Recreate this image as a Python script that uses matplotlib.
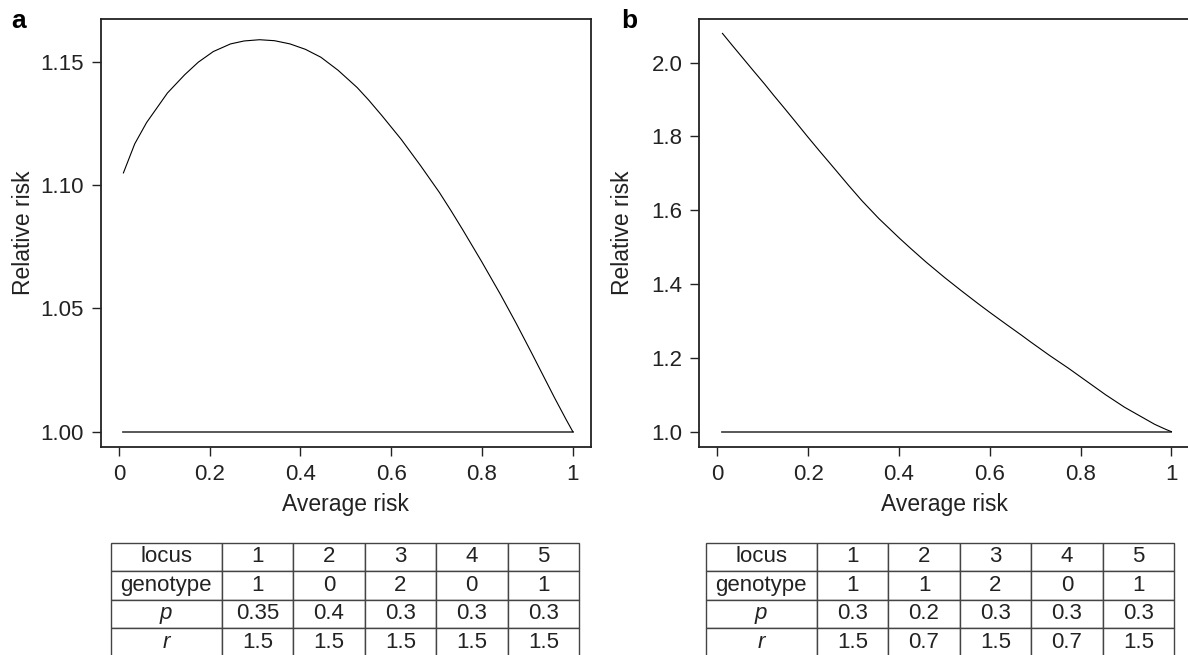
# relative risk vs average risk, two panels with genotype tables underneath
import matplotlib.pyplot as plt

plt.rcParams['font.family'] = ['Liberation Sans', 'DejaVu Sans']

# curve of panel a
risk_a = [0.01, 0.035, 0.061, 0.107, 0.145, 0.175, 0.208, 0.246, 0.276, 0.31,
          0.343, 0.377, 0.411, 0.445, 0.483, 0.525, 0.55, 0.58, 0.622, 0.664,
          0.706, 0.732, 0.757, 0.799, 0.841, 0.875, 0.909, 0.934, 0.959, 0.985, 1.0]
rr_a = [1.1049, 1.1167, 1.1253, 1.1373, 1.1447, 1.1498, 1.1541, 1.1572, 1.1584, 1.1589,
        1.1585, 1.1572, 1.1550, 1.1518, 1.1465, 1.1395, 1.1345, 1.1280, 1.1185, 1.1080,
        1.0970, 1.0895, 1.0820, 1.0690, 1.0555, 1.0440, 1.0320, 1.0230, 1.0140, 1.0050, 1.0]

# curve of panel b
risk_b = [0.011, 0.033, 0.054, 0.079, 0.103, 0.124, 0.145, 0.169, 0.198, 0.223,
          0.252, 0.289, 0.318, 0.355, 0.401, 0.426, 0.459, 0.5, 0.537, 0.574,
          0.599, 0.636, 0.669, 0.69, 0.731, 0.773, 0.814, 0.855, 0.897, 0.93,
          0.963, 0.988, 1.0]
rr_b = [2.079, 2.046, 2.015, 1.978, 1.943, 1.911, 1.880, 1.844, 1.800, 1.763,
        1.721, 1.667, 1.626, 1.578, 1.524, 1.496, 1.460, 1.418, 1.382, 1.347,
        1.324, 1.291, 1.262, 1.243, 1.207, 1.172, 1.136, 1.100, 1.066, 1.043,
        1.020, 1.006, 1.0]

# reference line RR = 1
flat_x = [0.01, 1.0]
flat_y = [1.0, 1.0]

x_ticks = [0, 0.2, 0.4, 0.6, 0.8, 1]
x_ticklabels = ['0', '0.2', '0.4', '0.6', '0.8', '1']
y_ticks_a = [1.00, 1.05, 1.10, 1.15]
y_ticklabels_a = ['1.00', '1.05', '1.10', '1.15']
y_ticks_b = [1.0, 1.2, 1.4, 1.6, 1.8, 2.0]
y_ticklabels_b = ['1.0', '1.2', '1.4', '1.6', '1.8', '2.0']

# tables
loci = ['1', '2', '3', '4', '5']
genotype_a = ['1', '0', '2', '0', '1']
p_a = ['0.35', '0.4', '0.3', '0.3', '0.3']
r_a = ['1.5', '1.5', '1.5', '1.5', '1.5']
genotype_b = ['1', '1', '2', '0', '1']
p_b = ['0.3', '0.2', '0.3', '0.3', '0.3']
r_b = ['1.5', '0.7', '1.5', '0.7', '1.5']

W, H = 1188, 655
fig = plt.figure(figsize=(W / 100, H / 100), dpi=100)

def px_rect(left, top, right, bottom):
    return [left / W, (H - bottom) / H, (right - left) / W, (bottom - top) / H]

def draw_panel(rect, risk, rr, yticks, yticklabels, ylim):
    ax = fig.add_axes(rect)
    ax.plot(flat_x, flat_y, color='#4a4a4a', lw=1.3)
    ax.plot(risk, rr, color='black', lw=0.8)
    ax.set_xlim(-0.04, 1.04)
    ax.set_ylim(*ylim)
    ax.set_xticks(x_ticks)
    ax.set_xticklabels(x_ticklabels)
    ax.set_yticks(yticks)
    ax.set_yticklabels(yticklabels)
    ax.tick_params(length=6.5, width=1, color='#222222', labelsize=16,
                   labelcolor='#222222')
    ax.tick_params(axis='x', pad=6)
    ax.tick_params(axis='y', pad=5.5)
    for s in ax.spines.values():
        s.set_color('#222222')
        s.set_linewidth(1.3)
    ax.set_xlabel('Average risk', fontsize=16.5, color='#222222', va='center')
    ax.xaxis.set_label_coords(0.5, -58 / 428)
    ax.set_ylabel('Relative risk', fontsize=16.5, color='#222222', va='center')
    ax.yaxis.set_label_coords(-77 / 490.3, 0.5)
    return ax

def draw_table(rect, genotype, p, r):
    tax = fig.add_axes(rect)
    tax.axis('off')
    cells = [['locus'] + loci, ['genotype'] + genotype, ['p'] + p, ['r'] + r]
    first = 111 / 468.3
    widths = [first] + [(1 - first) / 5] * 5
    tbl = tax.table(cellText=cells, colWidths=widths, cellLoc='center',
                    bbox=[0, 0, 1, 1])
    tbl.auto_set_font_size(False)
    tbl.set_fontsize(16)
    for (i, j), cell in tbl.get_celld().items():
        cell.set_edgecolor('#444444')
        cell.set_linewidth(1.0)
        cell.get_text().set_color('#222222')
        if j == 0 and i >= 2:
            cell.get_text().set_fontstyle('italic')

draw_panel(px_rect(100.7, 19, 591, 447), risk_a, rr_a, y_ticks_a, y_ticklabels_a,
           (0.9938, 1.1673))
draw_panel(px_rect(699.3, 19, 1189.6, 447), risk_b, rr_b, y_ticks_b, y_ticklabels_b,
           (0.9585, 2.118))

draw_table(px_rect(110.7, 542.7, 579, 656.7), genotype_a, p_a, r_a)
draw_table(px_rect(705.7, 542.7, 1174.3, 656.7), genotype_b, p_b, r_b)

fig.text(11.7 / W, (H - 28.3) / H, 'a', fontsize=19, fontweight='bold', va='baseline')
fig.text(621.7 / W, (H - 28.3) / H, 'b', fontsize=19, fontweight='bold', va='baseline')

fig.savefig('out.png', dpi=100)
